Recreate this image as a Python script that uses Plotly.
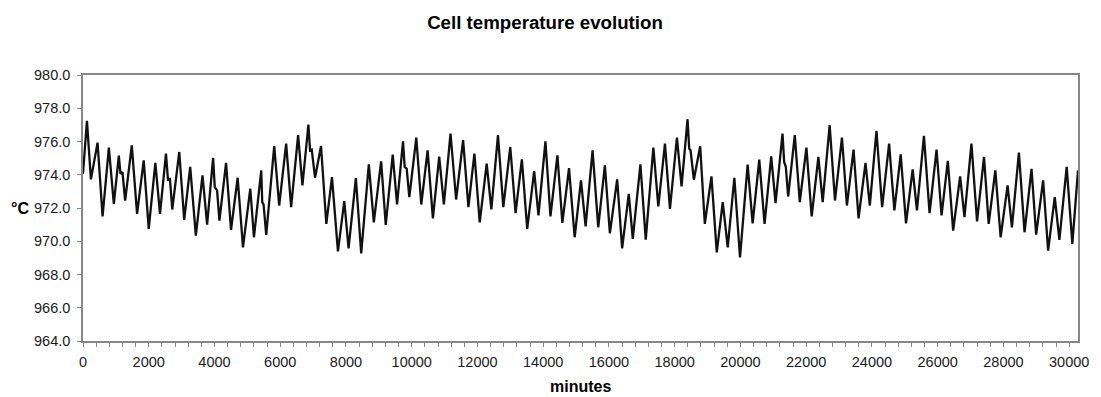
import plotly.graph_objects as go

minutes = [
    0, 120, 241, 443, 595, 787, 938, 1090, 1140, 1201, 1282, 1484, 1645, 1847, 1999,
    2201, 2342, 2524, 2585, 2645, 2716, 2928, 3079, 3261, 3433, 3635, 3776, 3958, 4009,
    4079, 4150, 4352, 4503, 4705, 4867,
    5089, 5200, 5423, 5453, 5493, 5574, 5817, 5968, 6180, 6332, 6544, 6675, 6857, 6907,
    6958, 7059, 7241, 7402, 7574, 7756, 7948, 8079, 8301, 8463, 8695, 8847, 9069, 9210,
    9422, 9554, 9735, 9786, 9847, 9927,
    10139, 10291, 10483, 10644, 10836, 10978, 11180, 11351, 11563, 11725, 11907, 12068,
    12281, 12422, 12624, 12786, 12998, 13159, 13351, 13513, 13725, 13856, 14068, 14220,
    14432, 14583, 14785, 14957,
    15149, 15290, 15502, 15674, 15876, 16028, 16250, 16401, 16603, 16725, 16957, 17119,
    17351, 17502, 17704, 17856, 18068, 18209, 18391, 18441, 18482, 18583, 18775, 18916,
    19118, 19280, 19462, 19613, 19815, 19987,
    20219, 20371, 20573, 20734, 20936, 21068, 21280, 21330, 21381, 21451, 21653, 21805,
    22007, 22168, 22371, 22502, 22714, 22876, 23088, 23239, 23441, 23593, 23805, 23936,
    24138, 24310, 24522, 24683, 24875, 25037,
    25239, 25370, 25582, 25754, 25966, 26118, 26309, 26471, 26683, 26815, 27027, 27198,
    27410, 27552, 27754, 27915, 28127, 28259, 28471, 28643, 28855, 28996, 29208, 29360,
    29562, 29703, 29925, 30097, 30269,
]

temperature = [
    974.06, 977.24, 973.72, 975.93, 971.49, 975.63, 972.25, 975.15, 974.06, 974.16, 972.45,
    975.77, 971.65, 974.87, 970.74, 974.71, 971.65, 975.27, 973.70, 973.74, 971.91, 975.37,
    971.28, 974.47, 970.34, 973.96, 971.00, 975.01, 973.26, 973.06, 971.24, 974.71, 970.68,
    973.82, 969.63,
    973.16, 970.24, 974.26, 972.35, 972.21, 970.38, 975.73, 972.15, 975.87, 972.05, 976.38,
    973.36, 977.02, 975.47, 975.51, 973.82, 975.73, 971.04, 973.86, 969.39, 972.41, 969.57,
    973.80, 969.27, 974.63, 971.14, 974.81, 970.98, 975.21, 972.21, 976.01, 974.47, 974.36,
    972.65,
    976.24, 972.21, 975.47, 971.38, 975.09, 972.21, 976.48, 972.51, 976.08, 972.05, 975.27,
    971.14, 974.67, 971.91, 976.38, 972.05, 975.67, 971.69, 974.93, 970.74, 974.22, 971.55,
    976.01, 971.49, 975.17, 971.10, 974.40, 970.24,
    973.66, 970.90, 975.47, 970.84, 974.57, 970.48, 973.72, 969.57, 972.85, 970.14, 974.63,
    970.10, 975.63, 972.09, 975.87, 971.95, 976.24, 973.30, 977.34, 975.57, 975.47, 973.70,
    975.71, 971.04, 973.90, 969.33, 972.35, 969.63, 973.82, 969.03,
    974.61, 971.08, 974.91, 971.04, 975.11, 972.29, 976.48, 974.77, 974.47, 972.69, 976.38,
    972.35, 975.63, 971.49, 975.07, 972.35, 976.98, 972.45, 976.24, 972.15, 975.51, 971.38,
    974.71, 972.15, 976.64, 972.05, 975.87, 971.85, 975.23, 971.08,
    974.32, 971.85, 976.34, 971.69, 975.51, 971.55, 974.83, 970.64, 973.90, 971.45, 975.87,
    971.20, 975.07, 971.04, 974.26, 970.24, 973.36, 970.84, 975.33, 970.54, 974.36, 970.40,
    973.66, 969.43, 972.65, 970.08, 974.47, 969.84, 974.26,
]

title_text = "Cell temperature evolution"
x_title = "minutes"
y_title = "°C"

W, H = 1101, 397
L, R, T, B = 83, 19, 75, 56

font_family = "Liberation Sans, Arial, sans-serif"
axis_color = "#878787"
text_color = "#1a1a1a"

fig = go.Figure()
fig.add_trace(go.Scatter(
    x=minutes, y=temperature, mode="lines",
    line=dict(color="#111111", width=2.3),
    showlegend=False, hoverinfo="skip",
))

fig.update_layout(
    width=W, height=H,
    margin=dict(l=L, r=R, t=T, b=B),
    paper_bgcolor="white", plot_bgcolor="white",
    font=dict(family=font_family, color=text_color, size=14.5),
    title=dict(
        text="<b>" + title_text + "</b>",
        x=0.495, xanchor="center", xref="container",
        y=1 - 22 / H, yanchor="middle", yref="container",
        font=dict(size=18.7, family=font_family, color="#000000"),
    ),
    annotations=[
        dict(text="<b>" + y_title + "</b>", xref="paper", yref="paper",
             x=(20 - L) / (W - L - R), y=0.5, xanchor="center", yanchor="middle",
             showarrow=False, font=dict(size=16, family=font_family, color="#000000")),
        dict(text="<b>" + x_title + "</b>", xref="paper", yref="paper",
             x=0.5, y=-(386.5 - (H - B)) / (H - T - B), xanchor="center", yanchor="middle",
             showarrow=False, font=dict(size=16, family=font_family, color="#000000")),
    ],
)

fig.update_xaxes(
    range=[0, 30269], tick0=0, dtick=2000, tickformat="d",
    showgrid=False, zeroline=False,
    showline=True, linecolor=axis_color, linewidth=1.6, mirror=True,
    ticks="outside", ticklen=4, tickcolor=axis_color, tickwidth=1.3,
    ticklabelstandoff=3,
    tickfont=dict(size=14.5, color=text_color),
    minor=dict(dtick=400, tick0=0, ticks="outside", ticklen=4, tickcolor=axis_color, tickwidth=1.3, showgrid=False),
)
fig.update_yaxes(
    range=[964, 980], tick0=964, dtick=2, tickformat=".1f",
    showgrid=False, zeroline=False,
    showline=True, linecolor=axis_color, linewidth=1.6, mirror=True,
    ticks="outside", ticklen=4, tickcolor=axis_color, tickwidth=1.3,
    ticklabelstandoff=4,
    tickfont=dict(size=14.5, color=text_color),
)

fig.write_html("out.html")
